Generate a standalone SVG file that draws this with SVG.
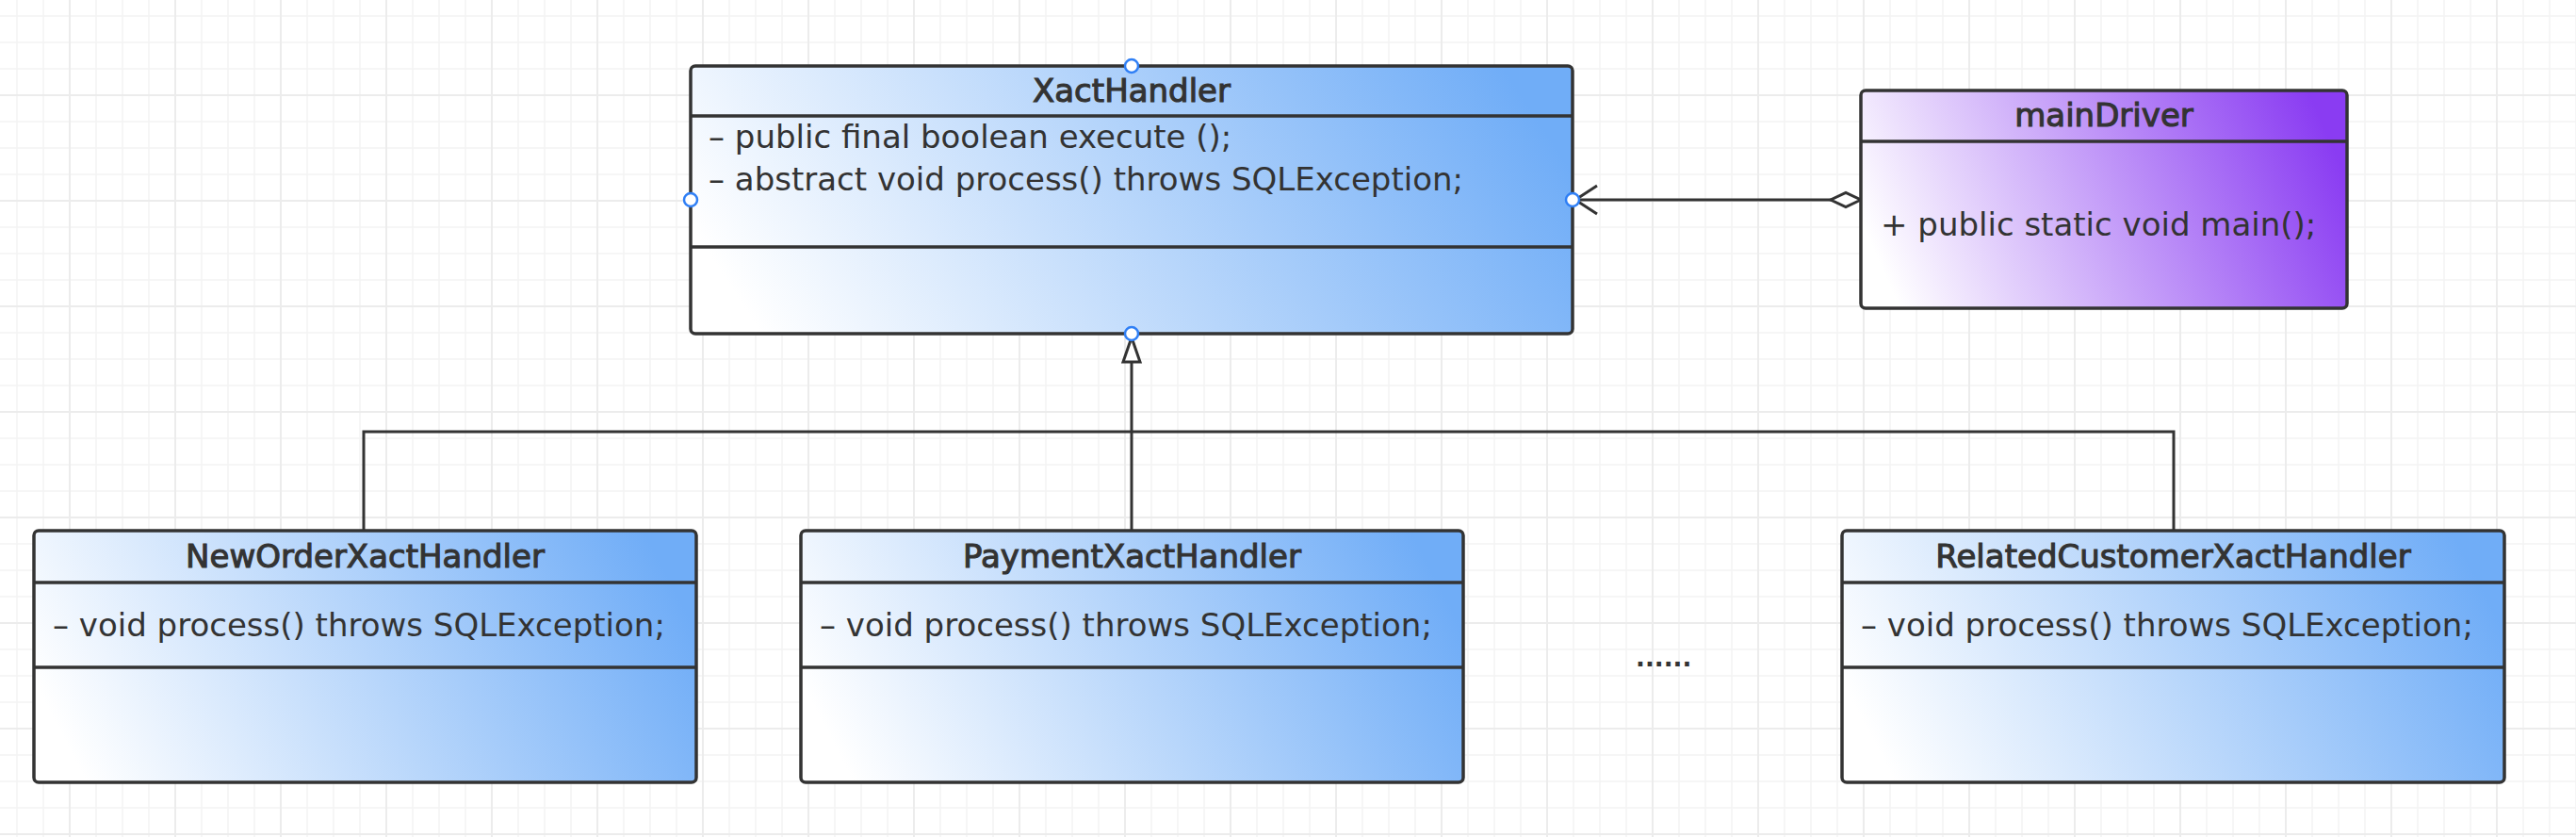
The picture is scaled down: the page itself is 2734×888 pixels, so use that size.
<svg xmlns="http://www.w3.org/2000/svg" width="2734" height="888" viewBox="0 0 2734 888">
  <defs>
    <pattern id="grid" patternUnits="userSpaceOnUse" x="4" y="31" width="112" height="112">
      <path d="M14 0V112M42 0V112M98 0V112M0 14H112M0 42H112M0 98H112" stroke="#f4f4f4" stroke-width="1.5" fill="none"/>
      <path d="M70 0V112M0 70H112" stroke="#ececec" stroke-width="2" fill="none"/>
    </pattern>
    <linearGradient id="blue" x1="0" y1="0.6" x2="1" y2="0.4">
      <stop offset="0" stop-color="#ffffff"/>
      <stop offset="1" stop-color="#70adf7"/>
    </linearGradient>
    <linearGradient id="purple" x1="0" y1="0.6" x2="1" y2="0.4">
      <stop offset="0" stop-color="#ffffff"/>
      <stop offset="1" stop-color="#8a3cf2"/>
    </linearGradient>
    <marker id="triangle" markerUnits="userSpaceOnUse" viewBox="-3 -12 32 24" markerWidth="32" markerHeight="24" refX="26" refY="0" orient="auto">
      <path d="M0,-9 L26,0 L0,9 Z" fill="#ffffff" stroke="#333333" stroke-width="3" stroke-linejoin="miter"/>
    </marker>
    <marker id="openArrow" markerUnits="userSpaceOnUse" viewBox="-3 -18 30 36" markerWidth="30" markerHeight="36" refX="23" refY="0" orient="auto">
      <path d="M0,-15 L23,0 L0,15" fill="none" stroke="#333333" stroke-width="3"/>
    </marker>
    <marker id="diamond" markerUnits="userSpaceOnUse" viewBox="-3 -11 38 22" markerWidth="38" markerHeight="22" refX="0" refY="0" orient="auto">
      <path d="M0,0 L16,-7.5 L32,0 L16,7.5 Z" fill="#ffffff" stroke="#333333" stroke-width="3"/>
    </marker>
  </defs>
  <style>
    .box { stroke: #333333; stroke-width: 3.5; }
    .div { stroke: #333333; stroke-width: 3.5; fill: none; }
    .title { font-family: "DejaVu Sans", "Liberation Sans", sans-serif; font-size: 34px; fill: #333333; stroke: #333333; stroke-width: 1.1; text-anchor: middle; }
    .member { font-family: "DejaVu Sans", "Liberation Sans", sans-serif; font-size: 34px; fill: #333333; }
    .conn { stroke: #333333; stroke-width: 3; fill: none; }
    .handle { fill: #ffffff; stroke: #2f7ff5; stroke-width: 2.5; }
    .dots { font-family: "DejaVu Sans", "Liberation Sans", sans-serif; font-size: 26px; font-weight: bold; fill: #333333; }
  </style>
  <rect x="0" y="0" width="2734" height="888" fill="#ffffff"/>
  <rect x="0" y="0" width="2734" height="888" fill="url(#grid)"/>

  <g id="connectors">
    <path class="conn" d="M386 563V458H2307V563"/>
    <path class="conn" d="M1201 563V358" marker-end="url(#triangle)"/>
    <path class="conn" d="M1975 212H1672" marker-start="url(#diamond)" marker-end="url(#openArrow)"/>
  </g>

  <g id="XactHandler">
    <rect class="box" x="733" y="70" width="936" height="284" rx="5" fill="url(#blue)"/>
    <path class="div" d="M733 123H1669M733 262H1669"/>
    <text class="title" x="1201" y="108">XactHandler</text>
    <text class="member" x="752" y="157">– public final boolean execute ();</text>
    <text class="member" x="752" y="202">– abstract void process() throws SQLException;</text>
    <circle class="handle" cx="1201" cy="70" r="7"/>
    <circle class="handle" cx="1201" cy="354" r="7"/>
    <circle class="handle" cx="733" cy="212" r="7"/>
    <circle class="handle" cx="1669" cy="212" r="7"/>
  </g>

  <g id="mainDriver">
    <rect class="box" x="1975" y="96" width="516" height="231" rx="5" fill="url(#purple)"/>
    <path class="div" d="M1975 150H2491"/>
    <text class="title" x="2233" y="134">mainDriver</text>
    <text class="member" x="1996" y="250">+ public static void main();</text>
  </g>

  <g id="NewOrderXactHandler">
    <rect class="box" x="36" y="563" width="703" height="267" rx="5" fill="url(#blue)"/>
    <path class="div" d="M36 618H739M36 708H739"/>
    <text class="title" x="387.5" y="602">NewOrderXactHandler</text>
    <text class="member" x="56" y="675">– void process() throws SQLException;</text>
  </g>

  <g id="PaymentXactHandler">
    <rect class="box" x="850" y="563" width="703" height="267" rx="5" fill="url(#blue)"/>
    <path class="div" d="M850 618H1553M850 708H1553"/>
    <text class="title" x="1201.5" y="602">PaymentXactHandler</text>
    <text class="member" x="870" y="675">– void process() throws SQLException;</text>
  </g>

  <g id="RelatedCustomerXactHandler">
    <rect class="box" x="1955" y="563" width="703" height="267" rx="5" fill="url(#blue)"/>
    <path class="div" d="M1955 618H2658M1955 708H2658"/>
    <text class="title" x="2306.5" y="602">RelatedCustomerXactHandler</text>
    <text class="member" x="1975" y="675">– void process() throws SQLException;</text>
  </g>

  <g id="ellipsis">
    <text class="dots" x="1736" y="707">......</text>
  </g>
</svg>
